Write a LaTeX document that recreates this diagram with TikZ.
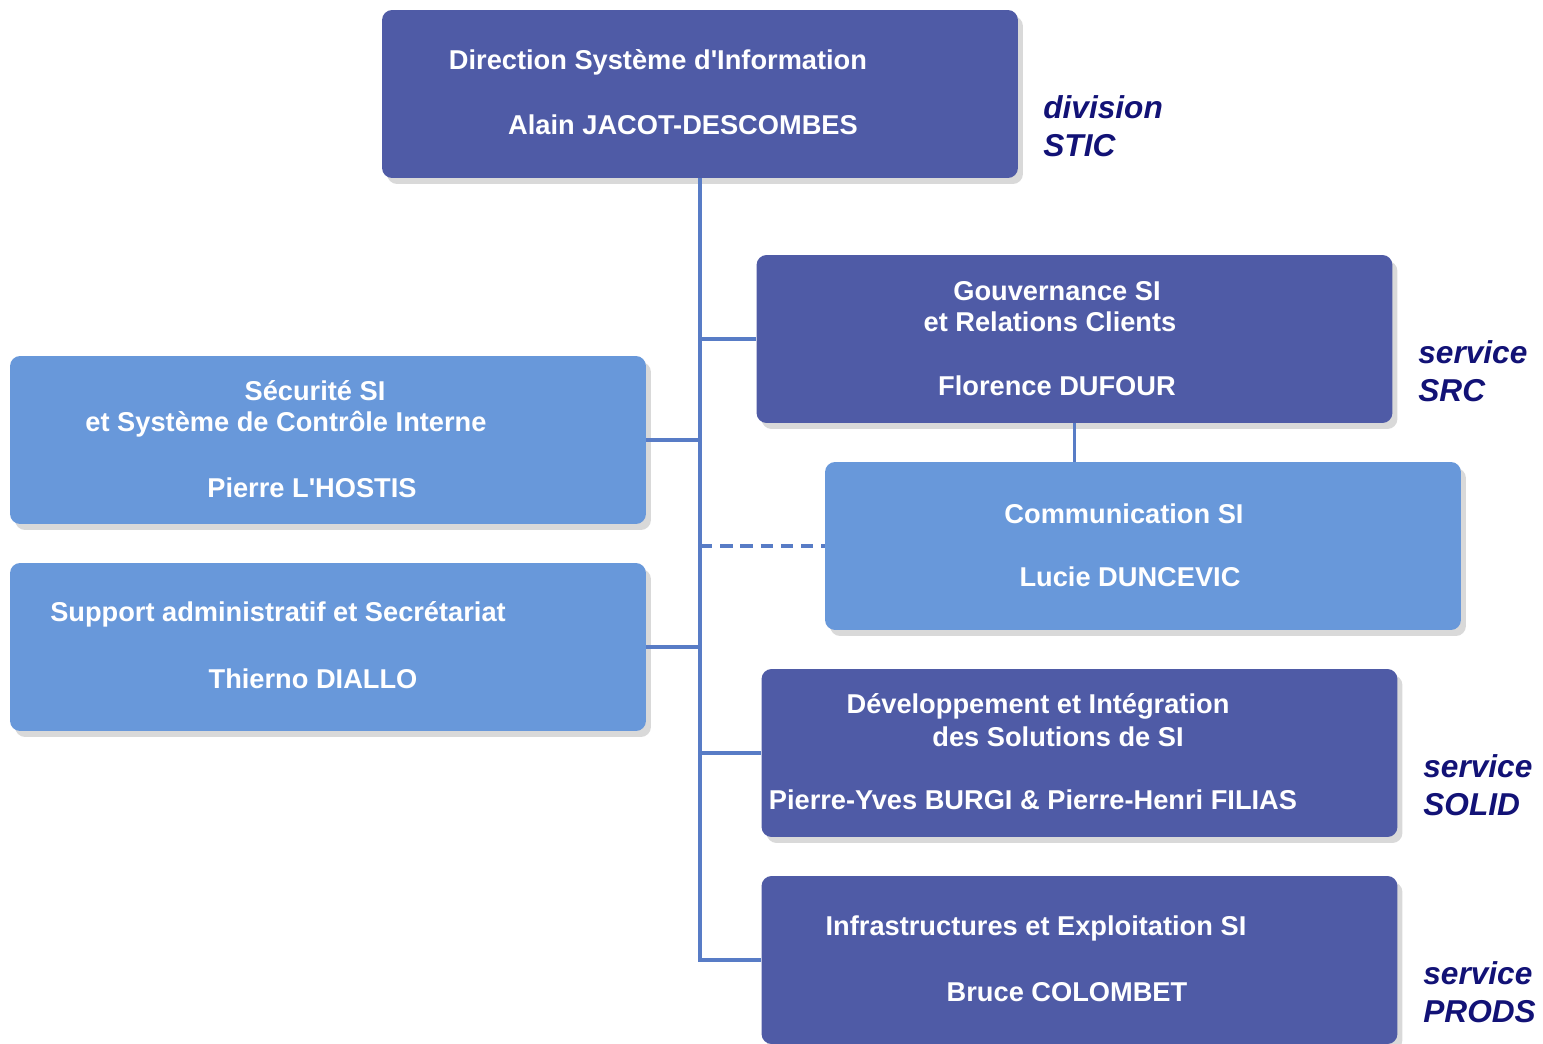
\documentclass[tikz,border=0pt]{standalone}
\usepackage{fontspec}
\setmainfont{Liberation Sans}
\usetikzlibrary{positioning,calc,shadows}

\definecolor{dirblue}{RGB}{79,91,166}
\definecolor{cellblue}{RGB}{104,152,218}
\definecolor{linkblue}{RGB}{88,124,198}
\definecolor{tagnavy}{RGB}{18,18,118}

\begin{document}
\begin{tikzpicture}[
		x=0.02cm, y=-0.02cm,
		unit/.style={
			rectangle,
			rounded corners=0.2cm,
			minimum width=12.72cm,
			minimum height=3.36cm,
			inner sep=0pt,
			drop shadow={shadow xshift=0.1cm, shadow yshift=-0.12cm, opacity=0.3}
		},
		dark/.style={unit, fill=dirblue},
		light/.style={unit, fill=cellblue},
		txt/.style={text=white, inner sep=0pt, font=\bfseries\fontsize{15.5}{18}\selectfont},
		tag/.style={text=tagnavy, inner sep=0pt, anchor=west, align=left, font=\bfseries\itshape\fontsize{18}{21.5}\selectfont},
		link/.style={draw=linkblue, line width=2.2pt}
		]
		\useasboundingbox (0,0) rectangle (1543,1044);

		% boxes
		\node[dark] (dsi) at (700,94) {};
		\node[dark] (src) at (1074.5,339) {};
		\node[light] (secu) at (328,440) {};
		\node[light] (comm) at (1143,546) {};
		\node[light] (supp) at (328,647) {};
		\node[dark] (solid) at (1079.5,753) {};
		\node[dark] (prods) at (1079.5,960) {};

		% texts
		\node[txt] (dsi1) at (658,62) {Direction Système d\textquotesingle Information};
		\node[txt] (dsi2) at (683,125) {Alain JACOT-DESCOMBES};
		\node[txt] (src1) at (1057,291) {Gouvernance SI};
		\node[txt] (src2) at (1050,322) {et Relations Clients};
		\node[txt] (src3) at (1057,386) {Florence DUFOUR};
		\node[txt] (secu1) at (315,391) {Sécurité SI};
		\node[txt] (secu2) at (286,424) {et Système de Contrôle Interne};
		\node[txt] (secu3) at (312,488) {Pierre L\textquotesingle HOSTIS};
		\node[txt] (comm1) at (1124,514) {Communication SI};
		\node[txt] (comm2) at (1130,577) {Lucie DUNCEVIC};
		\node[txt] (supp1) at (278,614) {Support administratif et Secrétariat};
		\node[txt] (supp2) at (313,679) {Thierno DIALLO};
		\node[txt] (solid1) at (1038,706) {Développement et Intégration};
		\node[txt] (solid2) at (1058,737) {des Solutions de SI};
		\node[txt] (solid3) at (1033,800) {Pierre-Yves BURGI \& Pierre-Henri FILIAS};
		\node[txt] (prods1) at (1036,928) {Infrastructures et Exploitation SI};
		\node[txt] (prods2) at (1067,992) {Bruce COLOMBET};

		% side tags
		\node[tag] (tagstic) at (1043,126) {division\\STIC};
		\node[tag] (tagsrc) at (1418,371) {service\\SRC};
		\node[tag] (tagsolid) at (1423,785) {service\\SOLID};
		\node[tag] (tagprods) at (1423,992) {service\\PRODS};

		% links
		\draw[link] (dsi.south) -- (dsi.south |- prods.west) -- (prods.west);
		\draw[link] (dsi.south |- src.west) -- (src.west);
		\draw[link] (secu.east) -- (secu.east -| dsi.south);
		\draw[link, dash pattern=on 7pt off 4.5pt] (dsi.south |- comm.west) -- (comm.west);
		\draw[link] (supp.east) -- (supp.east -| dsi.south);
		\draw[link] (dsi.south |- solid.west) -- (solid.west);
		\draw[link] (src.south) -- (src.south |- comm.north);
	\end{tikzpicture}
\end{document}
